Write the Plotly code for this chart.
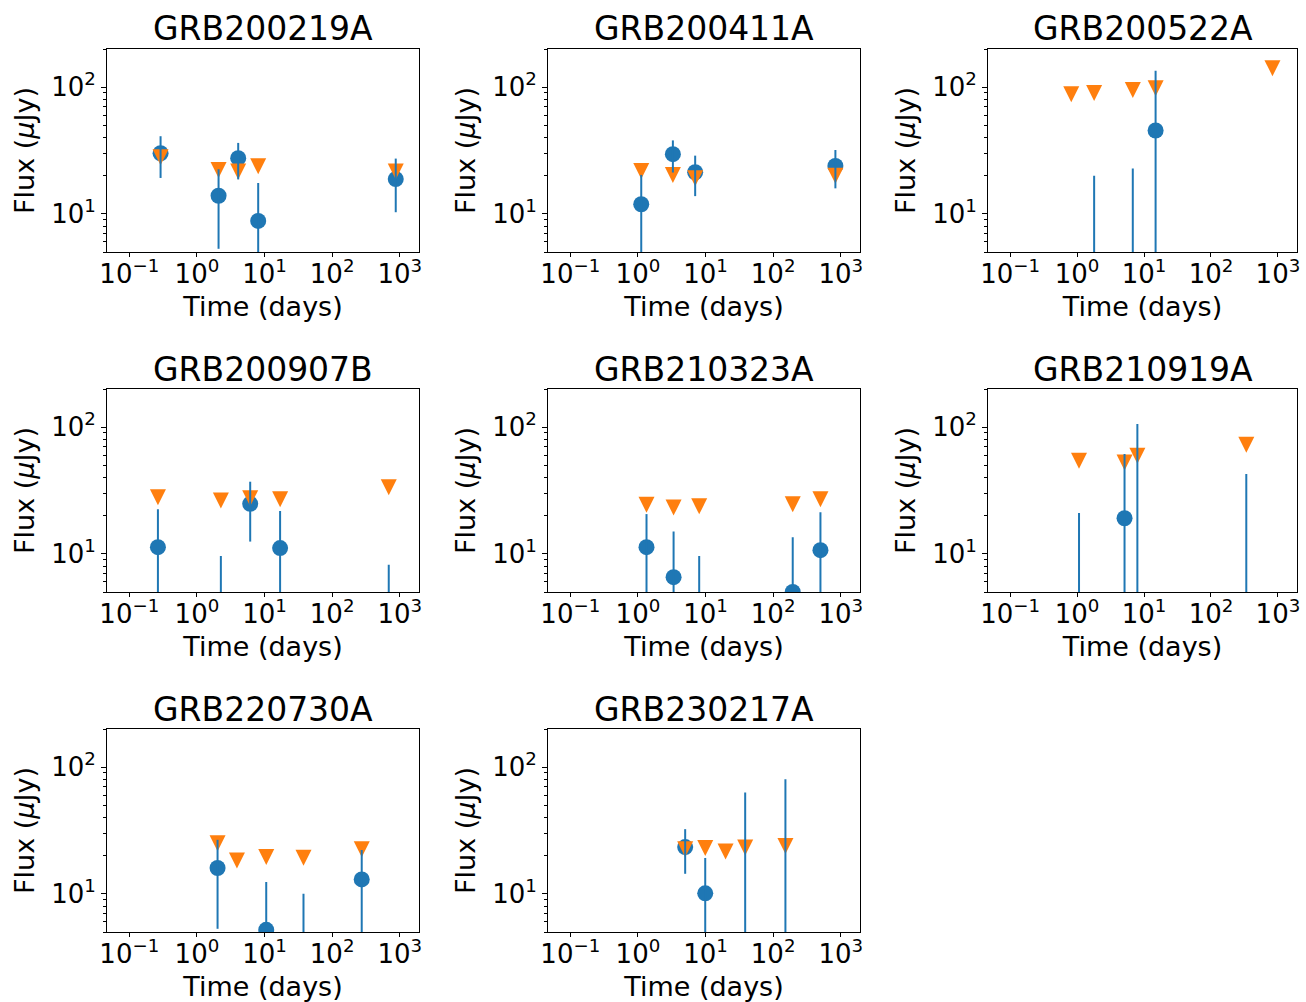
import plotly.graph_objects as go

# ---------------- data ----------------
grb_names = ["GRB200219A", "GRB200411A", "GRB200522A", "GRB200907B",
             "GRB210323A", "GRB210919A", "GRB220730A", "GRB230217A"]

# detections (time in days, flux in microJy, symmetric 1-sigma error)
det_time = [
    [0.29, 2.09, 4.08, 8.06, 873],
    [1.12, 3.29, 7.03, 834],
    [1.8, 6.8, 14.9],
    [0.265, 2.26, 6.14, 17.0, 688],
    [1.34, 3.37, 8.06, 195, 501],
    [1.07, 5.12, 7.96, 337],
    [2.02, 10.6, 37.7, 274],
    [5.0, 9.9, 38.6, 152],
]
det_flux = [
    [30.1, 13.9, 27.5, 8.8, 18.8],
    [11.9, 29.6, 21.3, 23.9],
    [2.0, 3.0, 45.5],
    [11.3, 1.5, 24.8, 11.1, 1.0],
    [11.3, 6.55, 1.5, 5.0, 10.7],
    [1.0, 19.1, 2.0, 2.0],
    [16.0, 5.2, 1.5, 13.0],
    [23.4, 10.1, 2.0, 2.0],
]
det_err = [
    [10.9, 8.6, 8.8, 8.7, 8.5],
    [8.4, 8.4, 7.5, 8.0],
    [18.0, 19.8, 89.0],
    [11.2, 8.1, 12.3, 10.7, 7.2],
    [9.3, 8.45, 8.1, 8.5, 10.6],
    [20.0, 42.4, 104.0, 40.6],
    [10.7, 7.2, 8.5, 9.2],
    [9.0, 9.1, 61.1, 78.4],
]

# upper limits (time in days, flux in microJy)
ul_time = [
    [0.29, 2.09, 4.08, 8.06, 873],
    [1.12, 3.29, 7.03, 834],
    [0.82, 1.8, 6.8, 14.9, 829],
    [0.265, 2.26, 6.14, 17.0, 688],
    [1.34, 3.37, 8.06, 195, 501],
    [1.07, 5.12, 7.96, 337],
    [2.02, 3.91, 10.6, 37.7, 274],
    [5.0, 9.9, 19.8, 38.6, 152],
]
ul_flux = [
    [28.0, 22.2, 21.6, 23.7, 21.6],
    [21.8, 20.3, 19.1, 20.0],
    [88.0, 89.8, 95.0, 98.0, 141.0],
    [28.0, 26.4, 27.5, 27.0, 33.6],
    [24.4, 23.2, 23.7, 24.6, 27.0],
    [54.2, 52.6, 59.4, 72.6],
    [25.1, 18.3, 19.5, 19.3, 22.5],
    [22.5, 23.0, 21.6, 23.2, 23.9],
]

x_tick_vals = [0.1, 1, 10, 100, 1000]
x_tick_text = ["10<sup>\u22121</sup>", "10<sup>0</sup>", "10<sup>1</sup>",
               "10<sup>2</sup>", "10<sup>3</sup>"]
y_tick_vals = [10, 100]
y_tick_text = ["10<sup>1</sup>", "10<sup>2</sup>"]
y_minor_vals = [5, 6, 7, 8, 9, 20, 30, 40, 50, 60, 70, 80, 90, 200]

x_label = "Time (days)"
y_label = "Flux (<i>\u03bc</i>Jy)"

# ---------------- styling ----------------
BLUE = "#1f77b4"
ORANGE = "#ff7f0e"
FONT = "DejaVu Sans"
W, H = 1306, 1002
col_px = [(107, 419), (548, 860), (988, 1297)]
row_px = [(49, 252), (389, 592), (729, 932)]

fig = go.Figure()
annotations = []

for i, name in enumerate(grb_names):
    r, c = divmod(i, 3)
    sfx = "" if i == 0 else str(i + 1)
    xa, ya = "x" + sfx, "y" + sfx

    fig.add_trace(go.Scatter(
        x=det_time[i], y=det_flux[i], mode="markers",
        marker=dict(color=BLUE, size=16, symbol="circle", line=dict(width=0)),
        xaxis=xa, yaxis=ya, showlegend=False, cliponaxis=True))
    fig.add_trace(go.Scatter(
        x=ul_time[i], y=ul_flux[i], mode="markers",
        marker=dict(color=ORANGE, size=16, symbol="arrow-down", standoff=8,
                    line=dict(width=0)),
        xaxis=xa, yaxis=ya, showlegend=False, cliponaxis=True))
    fig.add_trace(go.Scatter(
        x=det_time[i], y=det_flux[i], mode="markers",
        marker=dict(color=BLUE, size=2, opacity=0),
        error_y=dict(type="data", array=det_err[i], color=BLUE,
                     thickness=2, width=0),
        xaxis=xa, yaxis=ya, showlegend=False, cliponaxis=True))

    x0, x1 = col_px[c]
    y0, y1 = row_px[r]
    fig.layout["xaxis" + sfx] = dict(
        domain=[x0 / W, x1 / W], anchor=ya, type="log", automargin=False,
        range=[-1.33, 3.285], tickmode="array",
        tickvals=x_tick_vals, ticktext=x_tick_text,
        ticks="outside", ticklen=4, tickwidth=1, tickcolor="black",
        ticklabelstandoff=-5,
        showline=True, mirror=True, linecolor="black", linewidth=1,
        showgrid=False, zeroline=False,
        tickfont=dict(family=FONT, size=26, color="black"),
        title=dict(text=x_label, font=dict(family=FONT, size=27, color="black"),
                   standoff=8))
    fig.layout["yaxis" + sfx] = dict(
        domain=[1 - y1 / H, 1 - y0 / H], anchor=xa, type="log", automargin=False,
        range=[0.69897, 2.30103], tickmode="array",
        tickvals=y_tick_vals, ticktext=y_tick_text,
        ticks="outside", ticklen=5, tickwidth=1, tickcolor="black",
        minor=dict(tickmode="array", tickvals=y_minor_vals, ticks="outside",
                   ticklen=3, tickwidth=1, tickcolor="black", showgrid=False),
        showline=True, mirror=True, linecolor="black", linewidth=1,
        showgrid=False, zeroline=False,
        tickfont=dict(family=FONT, size=26, color="black"),
        title=dict(text=y_label, font=dict(family=FONT, size=27, color="black"),
                   standoff=8))

    annotations.append(dict(
        text=name, x=(x0 + x1) / 2 / W, y=1 - (y0 - 20) / H,
        xref="paper", yref="paper", xanchor="center", yanchor="middle",
        showarrow=False, font=dict(family=FONT, size=33, color="black")))

fig.update_layout(
    width=W, height=H, autosize=False,
    margin=dict(l=0, r=0, t=0, b=0, pad=0, autoexpand=False),
    paper_bgcolor="white", plot_bgcolor="white",
    annotations=annotations,
    font=dict(family=FONT, color="black"),
)

fig.write_html(
    "out.html",
    config={"responsive": False, "displayModeBar": False},
    post_script="document.body.style.margin='0';"
                "document.body.style.padding='0';"
                "document.documentElement.style.overflow='hidden';",
)
